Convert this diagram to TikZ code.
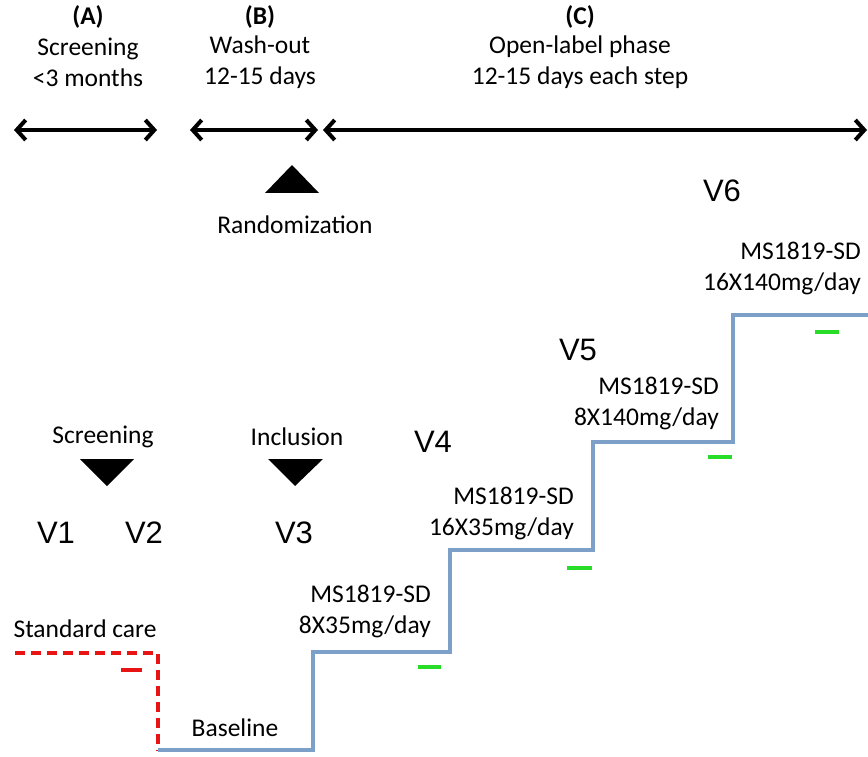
\documentclass[tikz,border=0pt]{standalone}
\usepackage{fontspec}
\setmainfont{Carlito}
\newfontfamily\arialf{Liberation Sans}
\usetikzlibrary{arrows.meta}
\definecolor{stepblue}{RGB}{124,160,200}
\definecolor{markgreen}{RGB}{40,220,40}
\definecolor{carered}{RGB}{230,20,20}
\tikzset{
  lbl/.style={font=\fontsize{25.5}{31}\selectfont, align=center, inner sep=0pt},
  lblr/.style={font=\fontsize{25.5}{31}\selectfont, align=right, inner sep=0pt, anchor=east},
  hdr/.style={font=\fontsize{25.5}{31}\selectfont\bfseries, inner sep=0pt},
  visit/.style={font=\arialf\fontsize{31}{32}\selectfont, inner sep=0pt},
  period/.style={line width=4pt, {Straight Barb[length=9pt,width=20pt,line width=4pt]}-{Straight Barb[length=9pt,width=20pt,line width=4pt]}},
  steps/.style={stepblue, line width=3.5pt},
  greenmark/.style={markgreen, line width=3.5pt},
  care/.style={carered, line width=3.5pt, dash pattern=on 10pt off 6pt}
}
\begin{document}
\begin{tikzpicture}[x=1pt,y=-1pt]
\useasboundingbox (0,0) rectangle (868,757);
% headers
\node[hdr] (hA) at (88,17) {(A)};
\node[lbl] (tA) at (88,62) {Screening\\<3 months};
\node[hdr] (hB) at (260,17) {(B)};
\node[lbl] (tB) at (260,62) {Wash-out\\12-15 days};
\node[hdr] (hC) at (580,17) {(C)};
\node[lbl] (tC) at (580,62) {Open-label phase\\12-15 days each step};
% period arrows
\coordinate (a1) at (14,130); \coordinate (a2) at (157,130);
\coordinate (b1) at (190,130); \coordinate (b2) at (318,130);
\coordinate (c1) at (323,130); \coordinate (c2) at (867,130);
\draw[period] (a1) -- (a2);
\draw[period] (b1) -- (b2);
\draw[period] (c1) -- (c2);
% randomization
\fill (292,165) -- (319,193) -- (265,193) -- cycle;
\node[lbl] (rand) at (295,225) {Randomization};
% screening / inclusion
\node[lbl] (scr) at (103,437) {Screening};
\fill (80,459) -- (134,459) -- (107,486) -- cycle;
\node[lbl] (inc) at (297,437) {Inclusion};
\fill (268,459) -- (323,459) -- (295,486) -- cycle;
% visits
\node[visit] (v1) at (56,533) {V1};
\node[visit] (v2) at (144,533) {V2};
\node[visit] (v3) at (294,533) {V3};
\node[visit] (v4) at (433,442) {V4};
\node[visit] (v5) at (578,350) {V5};
\node[visit] (v6) at (722,191) {V6};
% standard care
\node[lbl] (std) at (85,629) {Standard care};
\draw[care] (15,653) -- (158,653) -- (158,751);
\draw[carered, line width=3.5pt] (121,670) -- (142,670);
% steps
\draw[steps, line join=miter] (158,750) -- (313,750) -- (313,652) -- (450,652) -- (450,550) -- (593,550) -- (593,442) -- (733,442) -- (733,315) -- (868,315);
\node[lbl] (base) at (235,728) {Baseline};
\node[lblr] (d1) at (431,611) {MS1819-SD\\8X35mg/day};
\node[lblr] (d2) at (574,513) {MS1819-SD\\16X35mg/day};
\node[lblr] (d3) at (719,403) {MS1819-SD\\8X140mg/day};
\node[lblr] (d4) at (861,268) {MS1819-SD\\16X140mg/day};
% green markers
\draw[greenmark] (418,667) -- (441,667);
\draw[greenmark] (567,568) -- (592,568);
\draw[greenmark] (708,457) -- (732,457);
\draw[greenmark] (815,332) -- (839,332);
\end{tikzpicture}
\end{document}
